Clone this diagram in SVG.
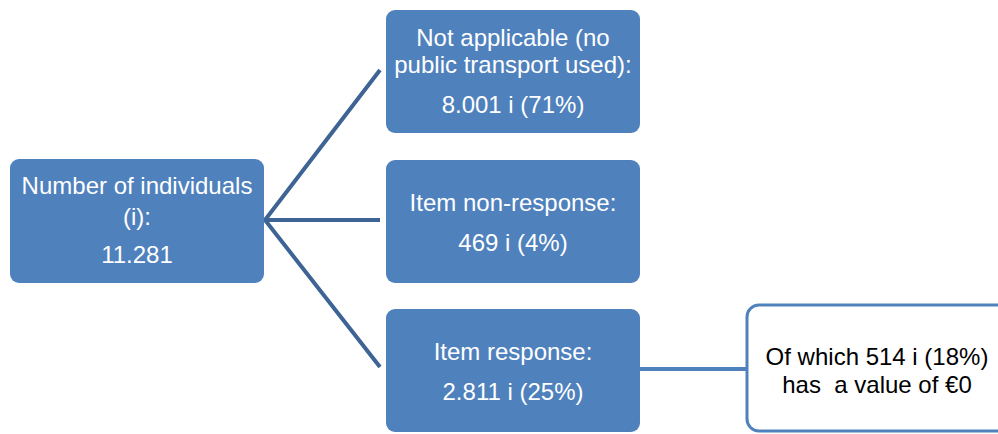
<svg xmlns="http://www.w3.org/2000/svg" width="998" height="434" viewBox="0 0 998 434">
<style>
.box{fill:#4F81BD;}
.wt{fill:#FFFFFF;font-family:"Liberation Sans",Arial,sans-serif;font-size:24px;text-anchor:middle;}
.bt{fill:#000000;font-family:"Liberation Sans",Arial,sans-serif;font-size:24px;text-anchor:middle;white-space:pre;}
.conn{stroke:#3D6494;stroke-width:4;fill:none;}
</style>
<rect width="998" height="434" fill="#FFFFFF"/>
<g id="connectors">
<path class="conn" d="M380 70 L265 220 L380 367 M265 220 L380 220"/>
<path d="M640 369 L747 369" stroke="#4F81BD" stroke-width="4" fill="none"/>
</g>
<g id="total">
<rect class="box" x="10" y="159" width="254" height="124" rx="9"/>
<text class="wt" x="137" y="194">Number of individuals</text>
<text class="wt" x="137" y="225">(i):</text>
<text class="wt" x="137" y="263">11.281</text>
</g>
<g id="not-applicable">
<rect class="box" x="386" y="10" width="254" height="123" rx="9"/>
<text class="wt" x="513" y="46">Not applicable (no</text>
<text class="wt" x="513" y="73">public transport used):</text>
<text class="wt" x="513" y="113">8.001 i (71%)</text>
</g>
<g id="non-response">
<rect class="box" x="386" y="160" width="254" height="123" rx="9"/>
<text class="wt" x="513" y="211">Item non-response:</text>
<text class="wt" x="513" y="251">469 i (4%)</text>
</g>
<g id="response">
<rect class="box" x="386" y="309" width="254" height="123" rx="9"/>
<text class="wt" x="513" y="360">Item response:</text>
<text class="wt" x="513" y="400">2.811 i (25%)</text>
</g>
<g id="zero-value">
<rect x="747" y="305" width="265" height="126" rx="12" fill="#FFFFFF" stroke="#4F81BD" stroke-width="3"/>
<text class="bt" x="877" y="365">Of which 514 i (18%)</text>
<text class="bt" x="877" y="393" xml:space="preserve">has  a value of €0</text>
</g>
</svg>
